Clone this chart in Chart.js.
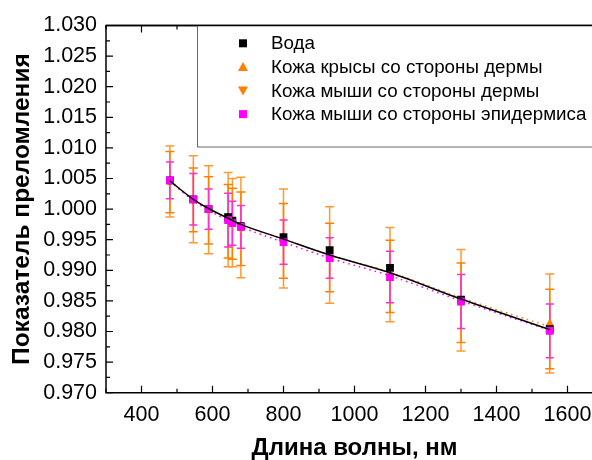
<!DOCTYPE html>
<html>
<head>
<meta charset="utf-8">
<script src="https://cdn.jsdelivr.net/npm/chart.js@4.4.1/dist/chart.umd.min.js"></script>
<style>
    html, body { margin: 0; padding: 0; background: #fff; overflow: hidden; }
    #wrap { width: 612px; height: 460px; }
</style>
</head>
<body>
<div id="wrap"><canvas id="chart" width="612" height="460"></canvas></div>
<script>
// Wavelengths, nm
const wavelengths = [480, 546, 589, 644, 656, 680, 800, 930, 1100, 1300, 1550];

// Refractive index (relative) per series
const water = [1.0047, 1.0016, 1.0000, 0.9987, 0.9981, 0.9972, 0.9954, 0.9933, 0.9904, 0.9852, 0.9804];
const waterErr = [0.0004, 0.0004, 0.0004, 0.0004, 0.0004, 0.0004, 0.0004, 0.0004, 0.0004, 0.0004, 0.0004];
const ratDermis = [1.0045, 1.0016, 0.9999, 0.9983, 0.9978, 0.9970, 0.9952, 0.9925, 0.9893, 0.9851, 0.9813];
const ratDermisErr = [0.0058, 0.0071, 0.0072, 0.0077, 0.0072, 0.0082, 0.0081, 0.0079, 0.0077, 0.0083, 0.0081];
const mouseDermis = [1.0044, 1.0015, 0.9998, 0.9980, 0.9976, 0.9968, 0.9948, 0.9921, 0.9890, 0.9847, 0.9804];
const mouseDermisErr = [0.0050, 0.0052, 0.0055, 0.0060, 0.0058, 0.0060, 0.0061, 0.0056, 0.0059, 0.0065, 0.0065];
const mouseEpidermis = [1.0047, 1.0016, 1.0000, 0.9982, 0.9977, 0.9971, 0.9946, 0.9920, 0.9889, 0.9849, 0.9801];
const mouseEpidermisErr = [0.0030, 0.0042, 0.0033, 0.0044, 0.0036, 0.0035, 0.0036, 0.0033, 0.0042, 0.0044, 0.0044];

// Fit curves
const fitWavelengths = [480, 546, 589, 644, 680, 800, 930, 1100, 1300, 1550];
const waterFit = [1.0046, 1.0016, 1.0001, 0.9985, 0.9975, 0.9951, 0.9925, 0.9896, 0.9853, 0.9803];
const dermisFit = [1.0046, 1.0016, 1.0000, 0.9984, 0.9974, 0.9951, 0.9925, 0.9897, 0.9855, 0.9808];
const epidermisFit = [1.0045, 1.0014, 0.9998, 0.9981, 0.9971, 0.9946, 0.9920, 0.9891, 0.9850, 0.9802];

// Axis ticks
const xTicks = [400, 600, 800, 1000, 1200, 1400, 1600];
const yTicks = [0.970, 0.975, 0.980, 0.985, 0.990, 0.995, 1.000, 1.005, 1.010, 1.015, 1.020, 1.025, 1.030];

const labels = ['Вода', 'Кожа крысы со стороны дермы', 'Кожа мыши со стороны дермы', 'Кожа мыши со стороны эпидермиса'];

const ORANGE = '#ff8000';
const ORANGE2 = '#ff9a33';
const MAGENTA = '#ff00ff';
const MAGENTA_BAR = '#ff2dd2';
const FONT = "'Liberation Sans', Arial, sans-serif";

function pts(xs, ys) { return xs.map((x, i) => ({ x: x, y: ys[i] })); }

// error bars drawn under the markers
const errorBars = {
    id: 'errorBars',
    beforeDatasetsDraw(chart) {
        const ctx = chart.ctx;
        const xs = chart.scales.x, ys = chart.scales.y;
        const sets = [
            [ratDermis, ratDermisErr, ORANGE2, 4.5],
            [mouseDermis, mouseDermisErr, ORANGE, 4.5],
            [mouseEpidermis, mouseEpidermisErr, MAGENTA_BAR, 4],
            [water, waterErr, '#000', 3.5]
        ];
        ctx.save();
        ctx.lineWidth = 1.5;
        sets.forEach(([vals, errs, color, cap]) => {
            ctx.strokeStyle = color;
            wavelengths.forEach((w, i) => {
                const x = xs.getPixelForValue(w);
                const y1 = ys.getPixelForValue(vals[i] + errs[i]);
                const y2 = ys.getPixelForValue(vals[i] - errs[i]);
                ctx.beginPath();
                ctx.moveTo(x, y1); ctx.lineTo(x, y2);
                ctx.moveTo(x - cap, y1); ctx.lineTo(x + cap, y1);
                ctx.moveTo(x - cap, y2); ctx.lineTo(x + cap, y2);
                ctx.stroke();
            });
        });
        ctx.restore();
    }
};

// frame, inward ticks and legend box
const frame = {
    id: 'frame',
    afterDraw(chart) {
        const ctx = chart.ctx;
        const a = chart.chartArea;
        const xs = chart.scales.x, ys = chart.scales.y;
        ctx.save();
        ctx.strokeStyle = '#000';
        ctx.lineWidth = 1.5;
        ctx.beginPath();
        ctx.moveTo(a.left, a.top); ctx.lineTo(a.right, a.top);
        ctx.lineTo(a.right, a.bottom); ctx.lineTo(a.left, a.bottom); ctx.closePath();
        ctx.stroke();

        ctx.lineWidth = 1.2;
        ctx.beginPath();
        for (let v = 300; v <= 1700; v += 100) {
            const x = xs.getPixelForValue(v);
            const len = v % 200 === 0 ? 7 : 4;
            ctx.moveTo(x, a.bottom); ctx.lineTo(x, a.bottom - len);
            ctx.moveTo(x, a.top); ctx.lineTo(x, a.top + len);
        }
        yTicks.forEach((v, i) => {
            const y = ys.getPixelForValue(v);
            ctx.moveTo(a.left, y); ctx.lineTo(a.left + 7, y);
            if (i < yTicks.length - 1) {
                const ym = ys.getPixelForValue(v + 0.0025);
                ctx.moveTo(a.left, ym); ctx.lineTo(a.left + 4, ym);
            }
        });
        ctx.stroke();

        // legend
        const lx = 197, top = a.top, bottom = 147;
        ctx.fillStyle = '#fff';
        ctx.fillRect(lx, top, a.right - lx, bottom - top);
        ctx.strokeStyle = '#666';
        ctx.lineWidth = 1;
        ctx.strokeRect(lx + 0.5, top, a.right - lx, bottom - top);
        ctx.strokeStyle = '#000';
        ctx.lineWidth = 1.5;
        ctx.beginPath(); ctx.moveTo(a.left, a.top); ctx.lineTo(a.right, a.top); ctx.stroke();

        const mx = 243, tx = 271, y0 = 43.3, dy = 23.6;
        ctx.font = '18.8px ' + FONT;
        ctx.textBaseline = 'middle';
        labels.forEach((t, i) => {
            const y = y0 + i * dy;
            drawMarker(ctx, i, mx, y);
            ctx.fillStyle = '#000';
            ctx.fillText(t, tx, y + 1);
        });
        ctx.restore();
    }
};

function drawMarker(ctx, i, x, y) {
    ctx.beginPath();
    if (i === 0) {
        ctx.fillStyle = '#000';
        ctx.fillRect(x - 4, y - 4, 8, 8);
    } else if (i === 1) {
        ctx.fillStyle = ORANGE;
        ctx.moveTo(x, y - 5); ctx.lineTo(x + 5, y + 4); ctx.lineTo(x - 5, y + 4); ctx.closePath(); ctx.fill();
    } else if (i === 2) {
        ctx.fillStyle = ORANGE;
        ctx.moveTo(x, y + 5); ctx.lineTo(x + 5, y - 4); ctx.lineTo(x - 5, y - 4); ctx.closePath(); ctx.fill();
    } else {
        ctx.fillStyle = MAGENTA;
        ctx.fillRect(x - 4, y - 4, 8, 8);
    }
}

new Chart(document.getElementById('chart'), {
    type: 'scatter',
    data: {
        datasets: [
            {
                label: labels[3], data: pts(wavelengths, mouseEpidermis),
                pointStyle: 'rect', pointRadius: 5.5, backgroundColor: MAGENTA, borderColor: MAGENTA, borderWidth: 0, order: 0
            },
            {
                label: labels[2], data: pts(wavelengths, mouseDermis),
                pointStyle: 'triangle', rotation: 180, pointRadius: 5, backgroundColor: ORANGE, borderColor: ORANGE, borderWidth: 0, order: 2
            },
            {
                label: labels[1], data: pts(wavelengths, ratDermis),
                pointStyle: 'triangle', pointRadius: 5, backgroundColor: ORANGE, borderColor: ORANGE, borderWidth: 0, order: 3
            },
            {
                label: labels[0], data: pts(wavelengths, water),
                pointStyle: 'rect', pointRadius: 5.5, backgroundColor: '#000', borderColor: '#000', borderWidth: 0, order: 1
            },
            {
                label: 'fit-water', data: pts(fitWavelengths, waterFit), showLine: true,
                borderColor: '#000', borderWidth: 1.5, pointRadius: 0, cubicInterpolationMode: 'monotone', order: -1
            },
            {
                label: 'fit-dermis', data: pts(fitWavelengths, dermisFit), showLine: true,
                borderColor: ORANGE, borderWidth: 1.5, borderDash: [1.5, 4], pointRadius: 0, cubicInterpolationMode: 'monotone', order: 5
            },
            {
                label: 'fit-epidermis', data: pts(fitWavelengths, epidermisFit), showLine: true,
                borderColor: MAGENTA, borderWidth: 1.5, borderDash: [1.5, 4], pointRadius: 0, cubicInterpolationMode: 'monotone', order: 4
            }
        ]
    },
    options: {
        responsive: false,
        animation: false,
        layout: { padding: { left: 0, right: 9, top: 25.5, bottom: 0 } },
        plugins: {
            legend: { display: false },
            tooltip: { enabled: false }
        },
        scales: {
            x: {
                type: 'linear',
                min: 300, max: 1700,
                afterFit(scale) { scale.height = 67.3; },
                afterBuildTicks(scale) { scale.ticks = xTicks.map(v => ({ value: v })); },
                grid: { display: false, drawTicks: false },
                border: { display: false },
                ticks: { color: '#000', padding: 9, font: { family: FONT, size: 21.5 }, callback: v => String(v) },
                title: {
                    display: true, text: 'Длина волны, нм', color: '#000',
                    font: { family: FONT, size: 24, weight: 'bold', lineHeight: 1.0 }, padding: { top: 0, bottom: 0 }
                }
            },
            y: {
                min: 0.970, max: 1.030,
                afterFit(scale) { scale.width = 106; },
                afterBuildTicks(scale) { scale.ticks = yTicks.map(v => ({ value: v })); },
                grid: { display: false, drawTicks: false },
                border: { display: false },
                ticks: { color: '#000', padding: 9, font: { family: FONT, size: 21.5 }, callback: v => v.toFixed(3) },
                title: {
                    display: true, text: 'Показатель преломления', color: '#000',
                    font: { family: FONT, size: 24.5, weight: 'bold', lineHeight: 1.0 }, padding: { top: 10, bottom: 0 }
                }
            }
        }
    },
    plugins: [errorBars, frame]
});
</script>
</body>
</html>
